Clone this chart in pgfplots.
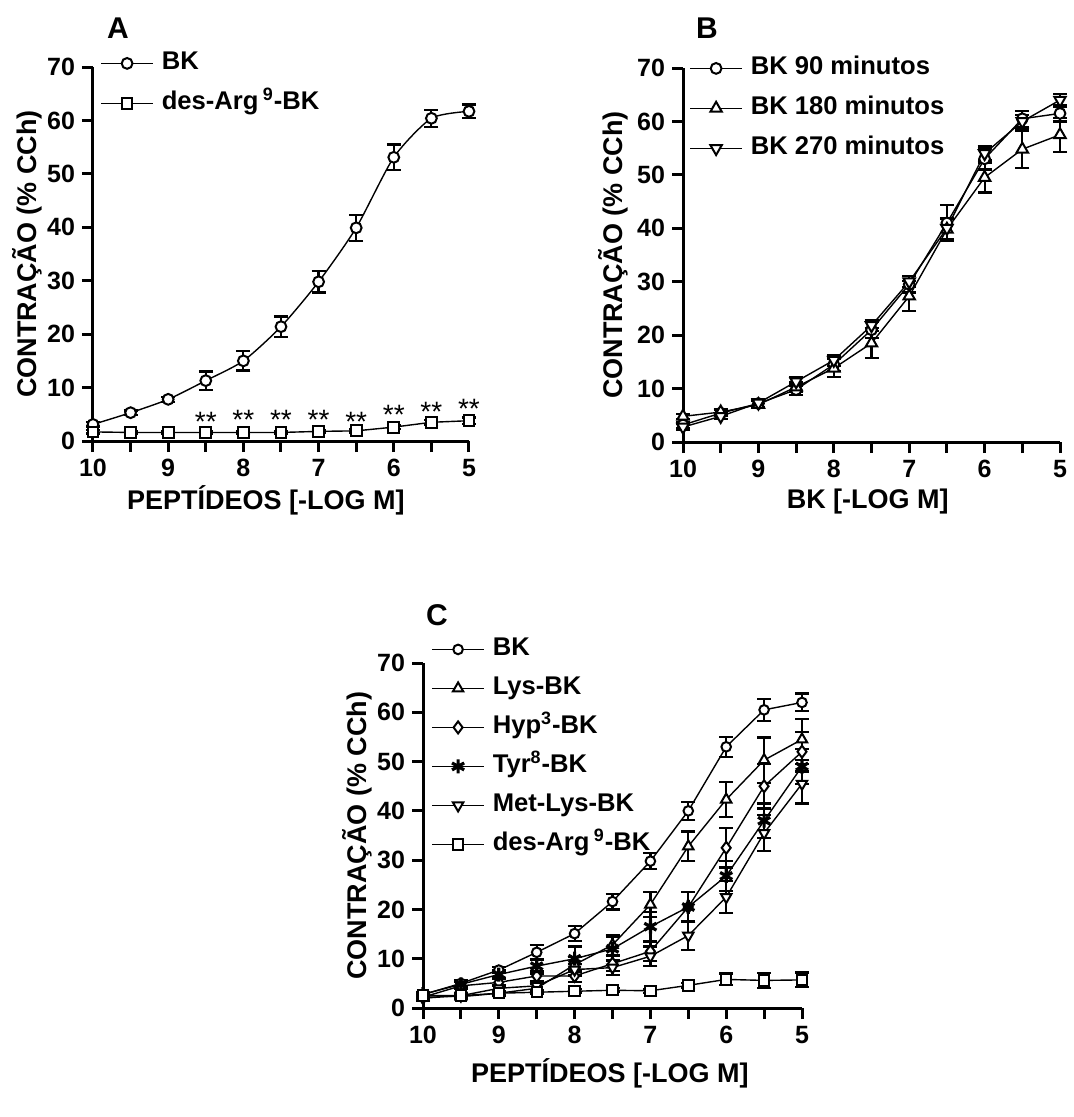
\documentclass[border=0pt]{standalone}
\usepackage{fontspec}
\setmainfont{Liberation Sans}
\usepackage{pgfplots}
\pgfplotsset{compat=1.18}

% GraphPad-like look: left/bottom axes, thick ticks, open markers
\pgfplotsset{
  prism/.style={
    scale only axis,
    x dir=reverse,
    xmin=5, xmax=10, ymin=0, ymax=70,
    axis x line*=bottom, axis y line*=left,
    axis line style={line width=1.5pt},
    xtick={5,6,7,8,9,10},
    minor xtick={5.5,6.5,7.5,8.5,9.5},
    ytick={0,10,...,70},
    tick align=outside,
    major tick length=5.5pt, minor tick length=5.5pt,
    tick style={black, line width=1.5pt},
    tick label style={font=\fontsize{12.5}{14}\selectfont\bfseries},
    /pgf/number format/assume math mode=true,
    label style={font=\fontsize{13.5}{15}\selectfont\bfseries},
    clip=false,
    legend cell align=left,
    legend style={draw=none, fill=none, font=\fontsize{12.8}{14}\selectfont\bfseries,
      inner sep=0pt, row sep=6pt, column sep=3pt,
      nodes={inner sep=1pt, text height=9pt, text depth=3pt}},
    legend image code/.code={\draw[mark repeat=2, mark phase=2] plot coordinates {(0pt,0pt) (13pt,0pt) (26pt,0pt)};},
    every axis plot/.append style={black, line width=0.7pt},
    error bars/y dir=both, error bars/y explicit,
    error bars/error bar style={line width=1.1pt},
    error bars/error mark options={rotate=90, mark size=3.5pt, line width=1.1pt},
  },
  mk/.style={mark options={solid, fill=white, line width=1pt}},
  mkd/.style={mark options={solid, fill=white, line width=1pt, rotate=180}},
}
\tikzset{stars/.style={font=\fontsize{14}{16}\selectfont}}

\begin{document}
\begin{tikzpicture}
\path (0,0) rectangle (534.5pt,-558.5pt);

\node[font=\fontsize{15}{17}\selectfont\bfseries] at (59pt,-14pt) {A};
\node[font=\fontsize{15}{17}\selectfont\bfseries] at (353.5pt,-14pt) {B};
\node[font=\fontsize{15}{17}\selectfont\bfseries] at (218.5pt,-307.5pt) {C};

% ---------- A ----------
\begin{axis}[prism, at={(46.5pt,-220.5pt)}, anchor=south west, width=188pt, height=187pt,
  xlabel={PEPTÍDEOS [-LOG M]}, ylabel={CONTRAÇÃO (\% CCh)},
  xlabel style={at={(axis description cs:0.46,-0.158)}, anchor=center},
  ylabel style={at={(axis description cs:-0.175,0.5)}, anchor=center},
  legend style={at={(axis description cs:0,1)}, anchor=north west, xshift=3.5pt, yshift=9pt}]
\addplot[mk, mark=*, mark size=2.7pt, smooth, tension=0.4] coordinates {
  (10,3.1) +- (0,0.4) (9.5,5.3) +- (0,0.4) (9,7.8) +- (0,0.5) (8.5,11.3) +- (0,1.7)
  (8,15.0) +- (0,1.8) (7.5,21.4) +- (0,1.9) (7,29.8) +- (0,2.0) (6.5,39.9) +- (0,2.4)
  (6,53.1) +- (0,2.4) (5.5,60.4) +- (0,1.6) (5,61.7) +- (0,1.3)};
\addlegendentry{BK}
\addplot[mk, mark=square*, mark size=2.7pt] coordinates {
  (10,1.7) +- (0,0.3) (9.5,1.6) +- (0,0.3) (9,1.6) +- (0,0.3) (8.5,1.6) +- (0,0.3)
  (8,1.6) +- (0,0.3) (7.5,1.6) +- (0,0.3) (7,1.8) +- (0,0.3) (6.5,1.9) +- (0,0.3)
  (6,2.6) +- (0,0.4) (5.5,3.5) +- (0,0.5) (5,3.8) +- (0,0.6)};
\addlegendentry{des-Arg\,\textsuperscript{9}-BK}
\node[stars] at (axis cs:8.5,3.6) {**};
\node[stars] at (axis cs:8,3.9) {**};
\node[stars] at (axis cs:7.5,3.9) {**};
\node[stars] at (axis cs:7,4.0) {**};
\node[stars] at (axis cs:6.5,3.6) {**};
\node[stars] at (axis cs:6,4.8) {**};
\node[stars] at (axis cs:5.5,5.5) {**};
\node[stars] at (axis cs:5,6.1) {**};
\end{axis}

% ---------- B ----------
\begin{axis}[prism, at={(341.5pt,-221pt)}, anchor=south west, width=188.5pt, height=187pt,
  xlabel={BK [-LOG M]}, ylabel={CONTRAÇÃO (\% CCh)},
  xlabel style={at={(axis description cs:0.49,-0.158)}, anchor=center},
  ylabel style={at={(axis description cs:-0.186,0.5)}, anchor=center},
  legend style={at={(axis description cs:0,1)}, anchor=north west, xshift=3pt, yshift=7pt}]
\addplot[mk, mark=*, mark size=2.7pt] coordinates {
  (10,3.2) +- (0,0.6) (9.5,5.4) +- (0,0.6) (9,7.2) +- (0,0.7) (8.5,9.8) +- (0,1.0)
  (8,14.5) +- (0,1.2) (7.5,21.0) +- (0,1.5) (7,29.5) +- (0,1.5) (6.5,41.0) +- (0,3.3)
  (6,53.0) +- (0,2.0) (5.5,60.5) +- (0,1.5) (5,61.5) +- (0,1.5)};
\addlegendentry{BK 90 minutos}
\addplot[mk, mark=triangle*, mark size=3.3pt] coordinates {
  (10,4.8) +- (0,0.5) (9.5,5.6) +- (0,0.5) (9,7.0) +- (0,0.7) (8.5,10.3) +- (0,1.0)
  (8,13.8) +- (0,1.7) (7.5,18.5) +- (0,2.8) (7,27.3) +- (0,2.8) (6.5,39.8) +- (0,2.0)
  (6,49.5) +- (0,2.8) (5.5,54.8) +- (0,3.5) (5,57.5) +- (0,3.2)};
\addlegendentry{BK 180 minutos}
\addplot[mkd, mark=triangle*, mark size=3.3pt] coordinates {
  (10,2.8) +- (0,0.5) (9.5,4.8) +- (0,0.5) (9,7.3) +- (0,0.7) (8.5,11.3) +- (0,0.8)
  (8,15.3) +- (0,1.0) (7.5,21.8) +- (0,1.0) (7,30.0) +- (0,1.0) (6.5,40.0) +- (0,2.0)
  (6,54.0) +- (0,1.3) (5.5,60.0) +- (0,1.2) (5,64.0) +- (0,1.2)};
\addlegendentry{BK 270 minutos}
\end{axis}

% ---------- C ----------
\begin{axis}[prism, at={(211.5pt,-504pt)}, anchor=south west, width=189.5pt, height=172.5pt,
  xlabel={PEPTÍDEOS [-LOG M]}, ylabel={CONTRAÇÃO (\% CCh)},
  xlabel style={at={(axis description cs:0.493,-0.188)}, anchor=center},
  ylabel style={at={(axis description cs:-0.174,0.5)}, anchor=center},
  legend style={at={(axis description cs:0,1)}, anchor=north west, xshift=4pt, yshift=14pt, row sep=5.5pt}]
\addplot[mk, mark=*, mark size=2.4pt] coordinates {
  (10,2.7) +- (0,0.5) (9.5,5.0) +- (0,0.6) (9,7.7) +- (0,0.6) (8.5,11.3) +- (0,1.5)
  (8,15.1) +- (0,1.5) (7.5,21.6) +- (0,1.6) (7,29.8) +- (0,1.6) (6.5,40.0) +- (0,1.8)
  (6,53.0) +- (0,2.0) (5.5,60.5) +- (0,2.2) (5,62.0) +- (0,1.8)};
\addlegendentry{BK}
\addplot[mk, mark=triangle*, mark size=3pt] coordinates {
  (10,2.5) +- (0,0.5) (9.5,2.3) +- (0,0.5) (9,3.0) +- (0,0.5) (8.5,4.0) +- (0,0.8)
  (8,8.8) +- (0,1.5) (7.5,12.8) +- (0,2.0) (7,21.0) +- (0,2.5) (6.5,32.8) +- (0,3.0)
  (6,42.3) +- (0,3.5) (5.5,50.3) +- (0,4.6) (5,54.5) +- (0,4.2)};
\addlegendentry{Lys-BK}
\addplot[mk, mark=diamond*, mark size=3pt] coordinates {
  (10,2.2) +- (0,0.5) (9.5,4.5) +- (0,0.7) (9,5.2) +- (0,0.8) (8.5,6.5) +- (0,1.0)
  (8,6.5) +- (0,1.2) (7.5,9.0) +- (0,1.5) (7,11.5) +- (0,2.0) (6.5,20.5) +- (0,3.0)
  (6,32.5) +- (0,4.0) (5.5,45.0) +- (0,4.5) (5,52.0) +- (0,4.0)};
\addlegendentry{Hyp\textsuperscript{3}-BK}
\addplot[mark=asterisk, mark size=3.5pt, mark options={solid, line width=1.6pt}] coordinates {
  (10,2.8) +- (0,0.5) (9.5,4.8) +- (0,0.6) (9,6.8) +- (0,0.8) (8.5,8.5) +- (0,1.5)
  (8,10.0) +- (0,2.5) (7.5,12.0) +- (0,2.5) (7,16.5) +- (0,3.0) (6.5,20.5) +- (0,3.0)
  (6,26.8) +- (0,3.0) (5.5,38.0) +- (0,3.5) (5,49.0) +- (0,3.5)};
\addlegendentry{Tyr\textsuperscript{8}-BK}
\addplot[mkd, mark=triangle*, mark size=3pt] coordinates {
  (10,2.0) +- (0,0.5) (9.5,2.5) +- (0,0.5) (9,4.0) +- (0,0.6) (8.5,4.5) +- (0,0.8)
  (8,7.8) +- (0,1.2) (7.5,8.2) +- (0,1.5) (7,10.5) +- (0,2.0) (6.5,14.7) +- (0,3.0)
  (6,22.5) +- (0,3.3) (5.5,35.5) +- (0,3.7) (5,45.5) +- (0,4.0)};
\addlegendentry{Met-Lys-BK}
\addplot[mk, mark=square*, mark size=2.6pt] coordinates {
  (10,2.5) +- (0,0.3) (9.5,2.5) +- (0,0.3) (9,3.0) +- (0,0.3) (8.5,3.2) +- (0,0.4)
  (8,3.4) +- (0,0.4) (7.5,3.6) +- (0,0.4) (7,3.5) +- (0,0.4) (6.5,4.6) +- (0,0.5)
  (6,5.8) +- (0,1.2) (5.5,5.6) +- (0,1.5) (5,5.7) +- (0,1.5)};
\addlegendentry{des-Arg\,\textsuperscript{9}-BK}
\end{axis}
\end{tikzpicture}
\end{document}
